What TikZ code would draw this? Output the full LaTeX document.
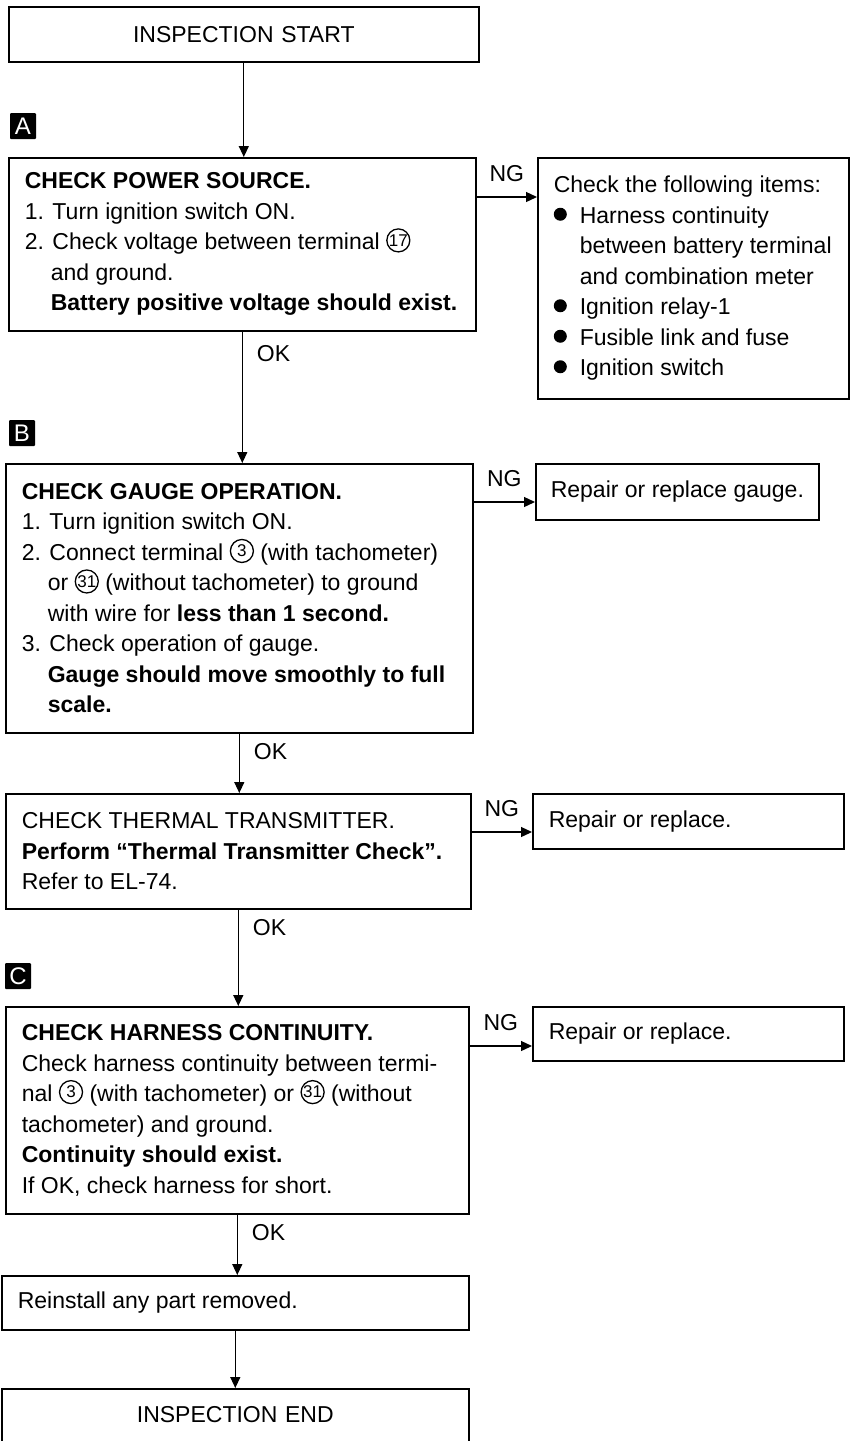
\documentclass[tikz,border=0pt]{standalone}
\usepackage{fontspec}
\setmainfont{Liberation Sans}
\usetikzlibrary{arrows.meta,positioning}

% numero de borne entoure
\newcommand{\cnum}[1]{\tikz[baseline={(0pt,-9.5pt)}]\node[circle, draw, line width=1.3pt,
    minimum size=23pt, inner sep=0pt, anchor=center, text width={}, align=center,
    font=\fontsize{17}{17}\selectfont] (cn) at (0pt,0pt) {#1};}
% puce ronde
\newcommand{\blt}{\makebox[26pt][l]{\tikz[baseline={(0pt,-9pt)}]\fill (6.5pt,0pt) circle[radius=6.5pt];}}
% retrait des lignes suivantes
\newcommand{\ind}{\hspace*{26pt}}

\begin{document}
\begin{tikzpicture}[x=1pt, y=-1pt,
    box/.style={draw, line width=1.6pt, anchor=north west, inner xsep=16pt, inner ysep=0pt,
        align=flush left, font=\fontsize{23}{30.5}\selectfont},
    flow/.style={-{Triangle[length=11pt,width=10pt]}, line width=1.3pt},
    tagbox/.style={fill=black, text=white, minimum size=26pt, inner sep=0pt, rounded corners=1pt,
        font=\fontsize{24}{24}\selectfont},
    lab/.style={font=\fontsize{23}{23}\selectfont, inner sep=0pt}]

    \useasboundingbox (0,0) rectangle (857,1441);

    % Debut
    \node[box, text width=438pt, align=center, minimum height=55pt] (start) at (8,6) {INSPECTION START};

    % Etape A
    \node[tagbox] (tagA) at (23,126) {A};
    \node[box, text width=435pt, minimum height=173pt] (boxA) at (8,157) {%
        \textbf{CHECK POWER SOURCE.}\\
        1. Turn ignition switch ON.\\
        2. Check voltage between terminal \cnum{17}\\
        \ind and ground.\\
        \ind\mbox{\textbf{Battery positive voltage should exist.}}};
    \node[box, text width=287pt, inner xsep=12pt, minimum height=241pt] (fixA) at (537,157) {%
        \hspace*{4pt}Check the following items:\\
        \hspace*{4pt}\blt Harness continuity\\
        \hspace*{4pt}\ind between battery terminal\\
        \hspace*{4pt}\ind and combination meter\\
        \hspace*{4pt}\blt Ignition relay-1\\
        \hspace*{4pt}\blt Fusible link and fuse\\
        \hspace*{4pt}\blt Ignition switch};

    % Etape B
    \node[tagbox] (tagB) at (22,433) {B};
    \node[box, text width=435pt, minimum height=269pt] (boxB) at (5,463) {%
        \textbf{CHECK GAUGE OPERATION.}\\
        1. Turn ignition switch ON.\\
        2. Connect terminal \cnum{3} (with tachometer)\\
        \ind or \cnum{31} (without tachometer) to ground\\
        \ind with wire for \textbf{less than 1 second.}\\
        3. Check operation of gauge.\\
        \ind\mbox{\textbf{Gauge should move smoothly to full}}\\
        \ind\textbf{scale.}};
    \node[box, text width=261pt, inner xsep=11pt, minimum height=56pt] (fixB) at (535,463) {\hspace*{4pt}Repair or replace gauge.};

    % Transmetteur
    \node[box, text width=433pt, minimum height=115pt] (boxT) at (5,793) {%
        CHECK THERMAL TRANSMITTER.\\
        \mbox{\textbf{Perform “Thermal Transmitter Check”.}}\\
        Refer to EL-74.};
    \node[box, text width=279pt, minimum height=55pt] (fixT) at (532,793) {Repair or replace.};

    % Etape C
    \node[tagbox] (tagC) at (18,976) {C};
    \node[box, text width=431pt, minimum height=207pt] (boxC) at (5,1006) {%
        \textbf{CHECK HARNESS CONTINUITY.}\\
        Check harness continuity between termi-\\
        nal \cnum{3} (with tachometer) or \cnum{31} (without\\
        tachometer) and ground.\\
        \textbf{Continuity should exist.}\\
        If OK, check harness for short.};
    \node[box, text width=279pt, minimum height=54pt] (fixC) at (532,1006) {Repair or replace.};

    % Fin
    \node[box, text width=435pt, minimum height=54pt] (reinst) at (1,1275) {Reinstall any part removed.};
    \node[box, text width=435pt, align=center, minimum height=64pt, text depth=12pt] (theend) at (1,1388) {INSPECTION END};

    % Fleches OK
    \draw[flow] (start.south) -- (start.south |- boxA.north);
    \draw[flow] (boxA.south) -- node[lab, at start, anchor=north west, xshift=14pt, yshift=-13pt] (okA) {OK} (boxA.south |- boxB.north);
    \draw[flow] (boxB.south) -- node[lab, at start, anchor=north west, xshift=14pt, yshift=-9pt] (okB) {OK} (boxB.south |- boxT.north);
    \draw[flow] (boxT.south) -- node[lab, at start, anchor=north west, xshift=14pt, yshift=-9pt] (okT) {OK} (boxT.south |- boxC.north);
    \draw[flow] (boxC.south) -- node[lab, at start, anchor=north west, xshift=14pt, yshift=-9pt] (okC) {OK} (boxC.south |- reinst.north);
    \draw[flow] (reinst.south) -- (reinst.south |- theend.north);

    % Fleches NG
    \coordinate (ngA) at ([yshift=-40pt]boxA.north east);
    \coordinate (ngB) at ([yshift=-39pt]boxB.north east);
    \coordinate (ngT) at ([yshift=-39pt]boxT.north east);
    \coordinate (ngC) at ([yshift=-40pt]boxC.north east);
    \draw[flow] (ngA) -- node[lab, above=15pt] (ngAl) {NG} (ngA -| fixA.west);
    \draw[flow] (ngB) -- node[lab, above=15pt] (ngBl) {NG} (ngB -| fixB.west);
    \draw[flow] (ngT) -- node[lab, above=15pt] (ngTl) {NG} (ngT -| fixT.west);
    \draw[flow] (ngC) -- node[lab, above=15pt] (ngCl) {NG} (ngC -| fixC.west);

\end{tikzpicture}
\end{document}
